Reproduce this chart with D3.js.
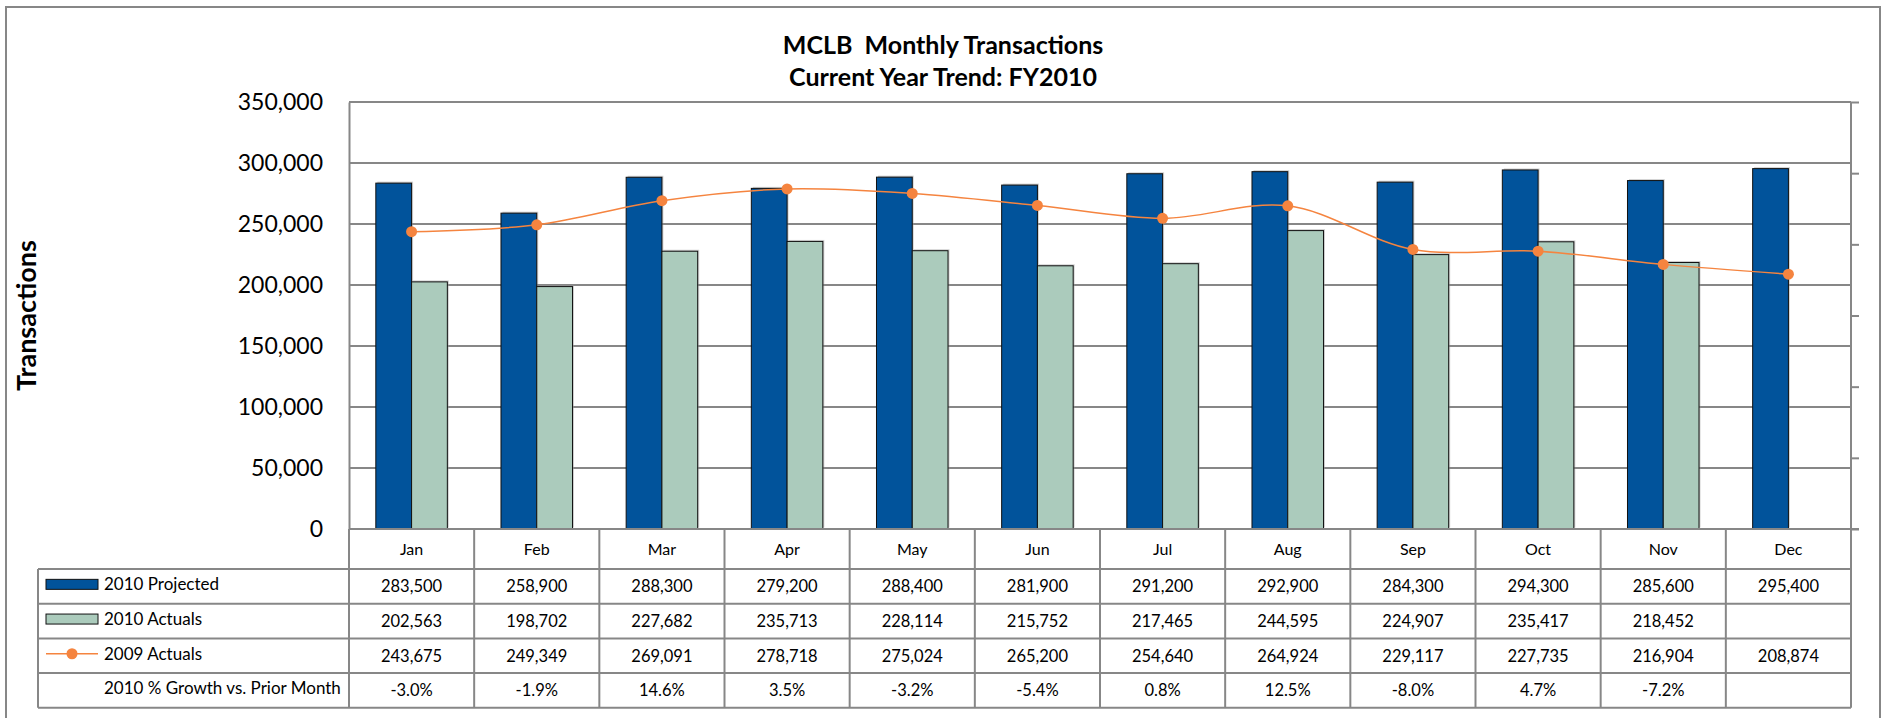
<!DOCTYPE html>
<html>
<head>
<meta charset="utf-8">
<script src="https://cdn.jsdelivr.net/npm/d3@7"></script>
<style>
	html, body { margin: 0; padding: 0; background: #fff; }
	#chart { width: 1885px; height: 718px; }
	text { font-family: Lato, "Open Sans", sans-serif; fill: #000; }
</style>
</head>
<body>
<div id="chart"></div>
<script>
(function (d3) {
	'use strict';

	// DATA
	const months = ["Jan", "Feb", "Mar", "Apr", "May", "Jun", "Jul", "Aug", "Sep", "Oct", "Nov", "Dec"];
	const projected2010 = [283500, 258900, 288300, 279200, 288400, 281900, 291200, 292900, 284300, 294300, 285600, 295400];
	const actuals2010 = [202563, 198702, 227682, 235713, 228114, 215752, 217465, 244595, 224907, 235417, 218452, null];
	const actuals2009 = [243675, 249349, 269091, 278718, 275024, 265200, 254640, 264924, 229117, 227735, 216904, 208874];
	const growth2010 = [-3.0, -1.9, 14.6, 3.5, -3.2, -5.4, 0.8, 12.5, -8.0, 4.7, -7.2, null];
	const yTicks = [0, 50000, 100000, 150000, 200000, 250000, 300000, 350000];

	const titleLines = ["MCLB  Monthly Transactions", "Current Year Trend: FY2010"];
	const yTitle = "Transactions";
	const seriesNames = ["2010 Projected", "2010 Actuals", "2009 Actuals", "2010 % Growth vs. Prior Month"];

	const colors = {
		projected: "#01539b",
		actuals: "#abcbbc",
		line: "#f5843f",
		grid: "#878787"
	};

	const width = 1885;
	const height = 718;

	// PLOT AREA
	const plot = { left: 349, right: 1851, top: 102, bottom: 529 };
	const table = { legendLeft: 38, catRowH: 40, rowH: 34.7 };

	// plain hyphen for negatives, like the source sheet
	const locale = d3.formatLocale({ decimal: ".", thousands: ",", grouping: [3], currency: ["", ""], minus: "-" });
	const fmt = locale.format(",");
	const pct = locale.format(".1f");

	const svg = d3.select("#chart").append("svg")
		.attr("width", width)
		.attr("height", height);

	// outer chart border
	svg.append("rect")
		.attr("x", 6).attr("y", 7)
		.attr("width", 1874).attr("height", 720)
		.attr("fill", "none")
		.attr("stroke", colors.grid)
		.attr("stroke-width", 2);

	// title
	svg.append("g").selectAll("text").data(titleLines).enter().append("text")
		.attr("x", 943)
		.attr("y", (d, i) => 54 + i * 32)
		.attr("text-anchor", "middle")
		.style("font-size", "25px")
		.style("font-weight", "bold")
		.style("white-space", "pre")
		.text(d => d);

	// scales
	const xScale = d3.scaleBand()
		.domain(months)
		.range([plot.left, plot.right]);
	const bw = xScale.bandwidth() / 3.5;

	const yScale = d3.scaleLinear()
		.domain([0, 350000])
		.range([plot.bottom, plot.top]);

	// gridlines
	const g = svg.append("g");
	g.selectAll(".grid").data(yTicks).enter().append("line")
		.attr("x1", plot.left).attr("x2", plot.right)
		.attr("y1", d => yScale(d)).attr("y2", d => yScale(d))
		.attr("stroke", colors.grid)
		.attr("stroke-width", 2);

	// left axis (labels only)
	const yAxisG = g.append("g")
		.attr("transform", `translate(${plot.left},0)`)
		.call(d3.axisLeft(yScale).tickValues(yTicks).tickFormat(fmt).tickSize(0).tickPadding(26));
	yAxisG.select(".domain").attr("stroke", colors.grid).attr("stroke-width", 2);
	yAxisG.selectAll("text")
		.style("font-family", "Lato, sans-serif")
		.style("font-size", "23px")
		.attr("fill", "#000");

	// right (secondary) axis, ticks only
	const y2Scale = d3.scaleLinear().domain([0, 6]).range([plot.bottom, plot.top]);
	const y2AxisG = g.append("g")
		.attr("transform", `translate(${plot.right},0)`)
		.call(d3.axisRight(y2Scale).ticks(6).tickSize(8).tickFormat(""));
	y2AxisG.selectAll("line, path").attr("stroke", colors.grid).attr("stroke-width", 2);
	y2AxisG.select(".domain").attr("d", `M0,${plot.top}V${plot.bottom}`);

	// y axis title
	svg.append("text")
		.attr("transform", `translate(36,${(plot.top + plot.bottom) / 2}) rotate(-90)`)
		.attr("text-anchor", "middle")
		.style("font-size", "27px")
		.style("font-weight", "bold")
		.text(yTitle);

	// bars
	const barG = svg.append("g");
	const barData = [];
	months.forEach((m, i) => {
		barData.push({ month: m, value: projected2010[i], offset: -bw, fill: colors.projected });
		if (actuals2010[i] != null) {
			barData.push({ month: m, value: actuals2010[i], offset: 0, fill: colors.actuals });
		}
	});
	const cx = m => xScale(m) + xScale.bandwidth() / 2;

	// soft shadow
	barG.selectAll(".shadow").data(barData).enter().append("rect")
		.attr("x", d => cx(d.month) + d.offset + 1.5)
		.attr("y", d => yScale(d.value) - 1.5)
		.attr("width", bw)
		.attr("height", d => yScale(0) - yScale(d.value))
		.attr("fill", "#999")
		.attr("fill-opacity", 0.45);
	barG.selectAll(".bar").data(barData).enter().append("rect")
		.attr("x", d => cx(d.month) + d.offset)
		.attr("y", d => yScale(d.value))
		.attr("width", bw)
		.attr("height", d => yScale(0) - yScale(d.value))
		.attr("fill", d => d.fill)
		.attr("stroke", "#111")
		.attr("stroke-width", 1);

	// 2009 line
	const pts = months.map((m, i) => [cx(m), yScale(actuals2009[i])]);
	svg.append("path")
		.attr("d", d3.line().curve(d3.curveCatmullRom.alpha(0.5))(pts))
		.attr("fill", "none")
		.attr("stroke", colors.line)
		.attr("stroke-width", 1.5);
	svg.append("g").selectAll("circle").data(pts).enter().append("circle")
		.attr("cx", d => d[0]).attr("cy", d => d[1])
		.attr("r", 5.5)
		.attr("fill", colors.line);

	// DATA TABLE
	const tg = svg.append("g");
	const catTop = plot.bottom;
	const rowsTop = catTop + table.catRowH;
	const rowY = i => rowsTop + i * table.rowH;
	const tableBottom = rowY(4);

	const rows = [
		projected2010.map(v => fmt(v)),
		actuals2010.map(v => v == null ? "" : fmt(v)),
		actuals2009.map(v => fmt(v)),
		growth2010.map(v => v == null ? "" : pct(v) + "%")
	];

	// horizontal table lines
	const hLines = [0, 1, 2, 3, 4].map(rowY);
	tg.selectAll(".hl").data(hLines).enter().append("line")
		.attr("x1", table.legendLeft).attr("x2", plot.right)
		.attr("y1", d => d).attr("y2", d => d)
		.attr("stroke", colors.grid).attr("stroke-width", 2);
	tg.append("line")
		.attr("x1", plot.left).attr("x2", plot.right + 8)
		.attr("y1", catTop).attr("y2", catTop)
		.attr("stroke", colors.grid).attr("stroke-width", 2);

	// vertical table lines
	const vLines = months.map(m => xScale(m)).concat([plot.right]);
	tg.selectAll(".vl").data(vLines).enter().append("line")
		.attr("x1", d => d).attr("x2", d => d)
		.attr("y1", catTop).attr("y2", tableBottom)
		.attr("stroke", colors.grid).attr("stroke-width", 2);
	tg.append("line")
		.attr("x1", table.legendLeft).attr("x2", table.legendLeft)
		.attr("y1", rowsTop).attr("y2", tableBottom)
		.attr("stroke", colors.grid).attr("stroke-width", 2);

	// month labels
	tg.selectAll(".month").data(months).enter().append("text")
		.attr("x", d => cx(d))
		.attr("y", catTop + table.catRowH / 2)
		.attr("dy", "0.35em")
		.attr("text-anchor", "middle")
		.style("font-size", "16px")
		.text(d => d);

	// cell values
	rows.forEach((r, ri) => {
		tg.selectAll(".cell" + ri).data(r).enter().append("text")
			.attr("x", (d, i) => cx(months[i]))
			.attr("y", rowY(ri) + table.rowH / 2)
			.attr("dy", "0.35em")
			.attr("text-anchor", "middle")
			.style("font-size", "16.5px")
			.text(d => d);
	});

	// legend keys
	const keyX = 46, keyW = 52, labelX = 104;
	tg.selectAll(".label").data(seriesNames).enter().append("text")
		.attr("x", labelX)
		.attr("y", (d, i) => rowY(i) + table.rowH / 2 - 2)
		.attr("dy", "0.35em")
		.style("font-size", "17px")
		.text(d => d);
	[colors.projected, colors.actuals].forEach((c, i) => {
		tg.append("rect")
			.attr("x", keyX).attr("y", rowY(i) + table.rowH / 2 - 7)
			.attr("width", keyW).attr("height", 10)
			.attr("fill", c)
			.attr("stroke", "#111").attr("stroke-width", 1);
	});
	const ly = rowY(2) + table.rowH / 2 - 2;
	tg.append("line")
		.attr("x1", keyX).attr("x2", keyX + keyW)
		.attr("y1", ly).attr("y2", ly)
		.attr("stroke", colors.line).attr("stroke-width", 1.5);
	tg.append("circle")
		.attr("cx", keyX + keyW / 2).attr("cy", ly)
		.attr("r", 5.5)
		.attr("fill", colors.line);
}(d3));
</script>
</body>
</html>
